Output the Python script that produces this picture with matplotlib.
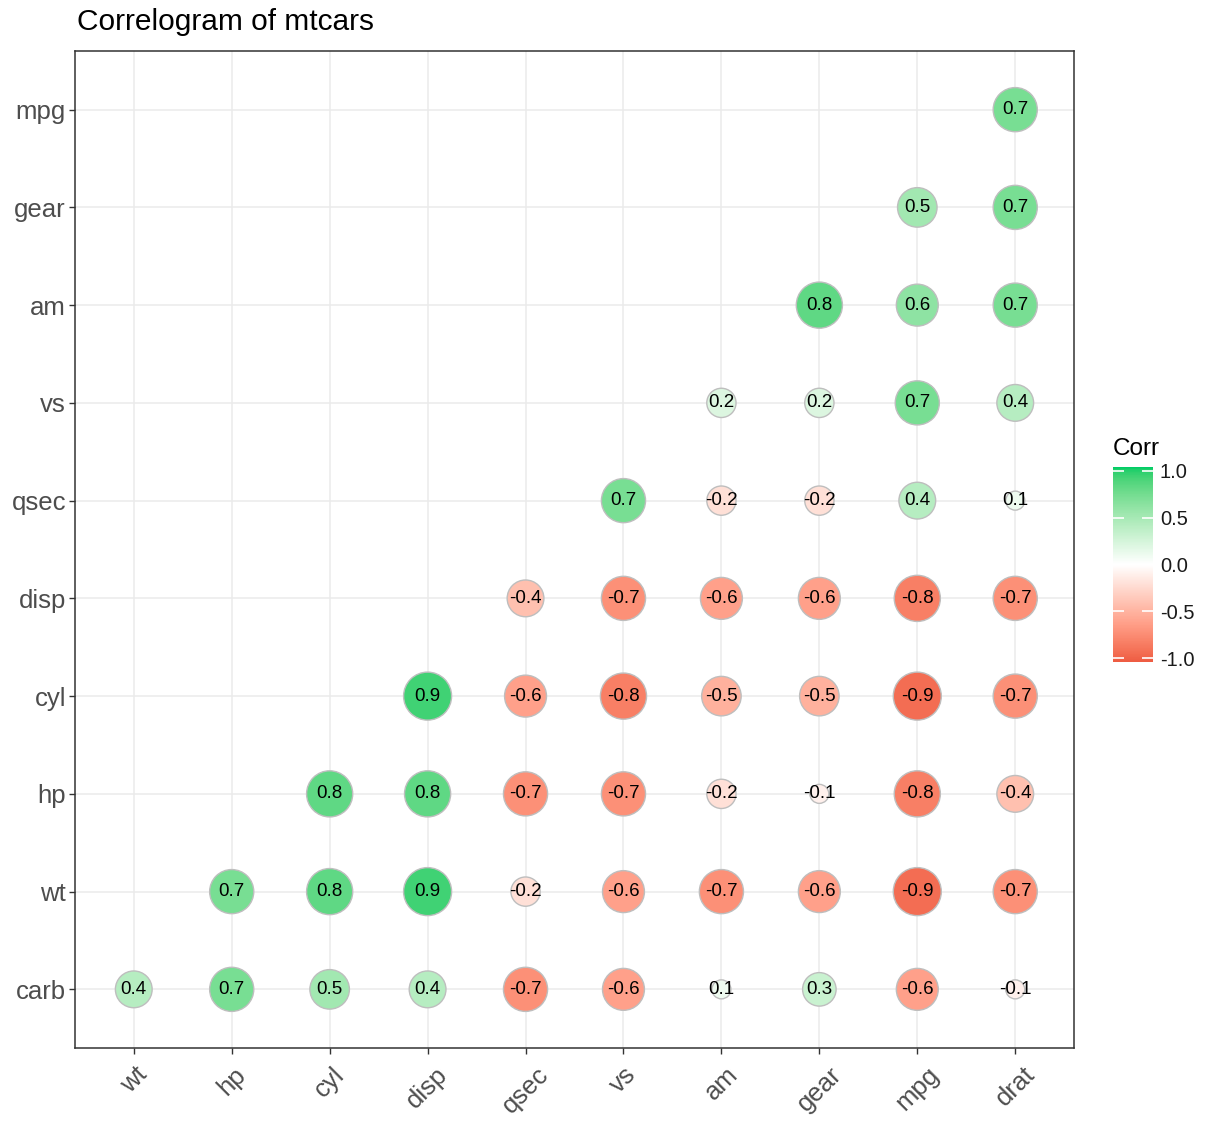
import numpy as np
import matplotlib
matplotlib.use("Agg")
import matplotlib.pyplot as plt
from matplotlib.colors import ListedColormap, Normalize, to_rgb
from matplotlib.cm import ScalarMappable

plt.rcParams['font.family'] = ['Liberation Sans', 'DejaVu Sans']

# variables (clustered order), x from left to right, y from bottom to top
x_vars = ['wt', 'hp', 'cyl', 'disp', 'qsec', 'vs', 'am', 'gear', 'mpg', 'drat']
y_vars = ['carb', 'wt', 'hp', 'cyl', 'disp', 'qsec', 'vs', 'am', 'gear', 'mpg']

# lower triangle: row k starts at column k
corr_carb = [0.4, 0.7, 0.5, 0.4, -0.7, -0.6, 0.1, 0.3, -0.6, -0.1]
corr_wt = [0.7, 0.8, 0.9, -0.2, -0.6, -0.7, -0.6, -0.9, -0.7]
corr_hp = [0.8, 0.8, -0.7, -0.7, -0.2, -0.1, -0.8, -0.4]
corr_cyl = [0.9, -0.6, -0.8, -0.5, -0.5, -0.9, -0.7]
corr_disp = [-0.4, -0.7, -0.6, -0.6, -0.8, -0.7]
corr_qsec = [0.7, -0.2, -0.2, 0.4, 0.1]
corr_vs = [0.2, 0.2, 0.7, 0.4]
corr_am = [0.8, 0.6, 0.7]
corr_gear = [0.5, 0.7]
corr_mpg = [0.7]

rows = [corr_carb, corr_wt, corr_hp, corr_cyl, corr_disp,
        corr_qsec, corr_vs, corr_am, corr_gear, corr_mpg]


# gradient low -> white -> high, interpolated in Lab like scale_fill_gradient2
def to_lab(c):
    c = np.array(to_rgb(c))
    c = np.where(c > 0.04045, ((c + 0.055) / 1.055) ** 2.4, c / 12.92)
    m = np.array([[0.4124, 0.3576, 0.1805],
                  [0.2126, 0.7152, 0.0722],
                  [0.0193, 0.1192, 0.9505]])
    xyz = m @ c / np.array([0.95047, 1.0, 1.08883])
    f = np.where(xyz > 0.008856, np.cbrt(xyz), 7.787 * xyz + 16 / 116)
    return np.array([116 * f[1] - 16, 500 * (f[0] - f[1]), 200 * (f[1] - f[2])])


def from_lab(lab):
    fy = (lab[0] + 16) / 116
    f = np.array([fy + lab[1] / 500, fy, fy - lab[2] / 200])
    xyz = np.where(f ** 3 > 0.008856, f ** 3, (f - 16 / 116) / 7.787)
    xyz = xyz * np.array([0.95047, 1.0, 1.08883])
    m = np.array([[3.2406, -1.5372, -0.4986],
                  [-0.9689, 1.8758, 0.0415],
                  [0.0557, -0.2040, 1.0570]])
    c = m @ xyz
    c = np.where(c > 0.0031308, 1.055 * np.clip(c, 0, None) ** (1 / 2.4) - 0.055, 12.92 * c)
    return np.clip(c, 0, 1)


low, mid, high = to_lab('#EE5C42'), to_lab('white'), to_lab('#00CD66')
grad = [from_lab(low + (mid - low) * t) for t in np.linspace(0, 1, 128)]
grad += [from_lab(mid + (high - mid) * t) for t in np.linspace(0, 1, 128)]
cmap = ListedColormap(grad)
norm = Normalize(-1, 1)

fig = plt.figure(figsize=(12.06, 11.21), dpi=100)
ax = fig.add_axes([75 / 1206, 73 / 1121, 999 / 1206, 997 / 1121])

xs, ys, vals = [], [], []
for k, row in enumerate(rows):
    for j, v in enumerate(row):
        xs.append(k + j)
        ys.append(k)
        vals.append(v)
xs, ys, vals = np.array(xs), np.array(ys), np.array(vals)

# circle diameter grows with |r| (area scale), in pixels then points
a = np.abs(vals)
d_px = 19 + (48 - 19) * np.sqrt((a - a.min()) / (a.max() - a.min()))
sizes = (d_px * 0.72) ** 2

ax.scatter(xs, ys, s=sizes, c=vals, cmap=cmap, norm=norm,
           edgecolors='#BEBEBE', linewidths=1.0, zorder=3)
for x, y, v in zip(xs, ys, vals):
    ax.text(x, y, f'{v:.1f}', ha='center', va='center', fontsize=13.5,
            color='black', zorder=4)

ax.set_xlim(-0.6, 9.6)
ax.set_ylim(-0.6, 9.6)
ax.set_xticks(range(10))
ax.set_yticks(range(10))
ax.set_xticklabels(x_vars, rotation=45, ha='center', va='top')
ax.set_yticklabels(y_vars)
ax.tick_params(axis='both', labelsize=18.5, labelcolor='#4D4D4D',
               color='#333333', length=4.5, width=1.0, pad=2)
ax.tick_params(axis='x', pad=6)
ax.grid(True, color='#EBEBEB', linewidth=1.1, zorder=0)
ax.set_axisbelow(True)
for sp in ax.spines.values():
    sp.set_color('#333333')
    sp.set_linewidth(1.1)

fig.text(77 / 1206, 1 - 22 / 1121, 'Correlogram of mtcars', fontsize=21.5,
         ha='left', va='center', color='black')

# colour bar legend; the bar runs a little past the end ticks
cax = fig.add_axes([1113 / 1206, 459 / 1121, 40 / 1206, 195 / 1121])
cb = fig.colorbar(ScalarMappable(norm=Normalize(-1.04, 1.04), cmap=cmap), cax=cax)
cb.outline.set_visible(False)
cb.set_ticks([-1.0, -0.5, 0.0, 0.5, 1.0])
cb.set_ticklabels(['-1.0', '-0.5', '0.0', '0.5', '1.0'])
cax.tick_params(direction='in', color='white', length=8, width=1.2,
                labelsize=14.5, labelcolor='#1A1A1A', pad=5, left=True)
fig.text(1113 / 1206, 1 - 449 / 1121, 'Corr', fontsize=17.5, ha='left',
         va='center', color='black')

fig.savefig('out.png', dpi=100)
